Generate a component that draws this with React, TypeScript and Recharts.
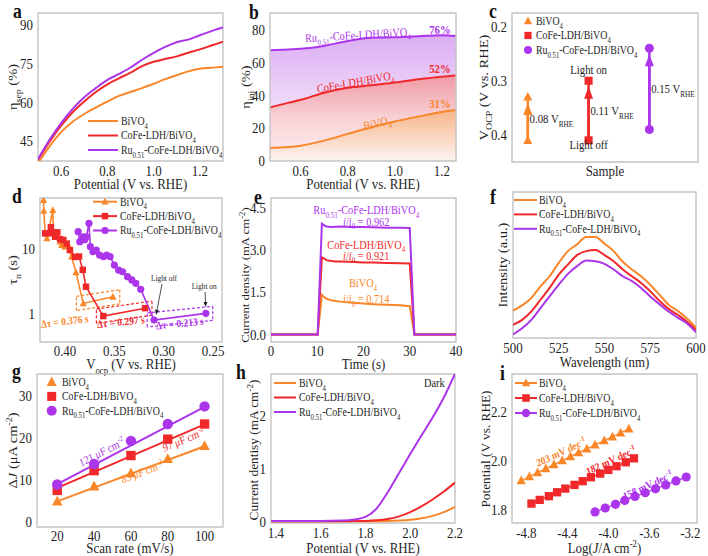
import React from 'react'
import {
  ComposedChart,
  Line,
  Area,
  XAxis,
  YAxis,
  ReferenceArea,
  ReferenceLine,
  ReferenceDot
} from 'recharts'

const ORANGE = '#fa862a'
const RED = '#f0282a'
const PURPLE = '#ab35eb'
const INK = '#1e1e1e'
const FRAME = '#c4c4c4'
const SERIF = '"Liberation Serif", "Times New Roman", serif'
// lettering in this figure is set narrower than the font's natural width
const SX = 0.86

const SAMPLES = ['BiVO_{4}', 'CoFe-LDH/BiVO_{4}', 'Ru_{0.51}-CoFe-LDH/BiVO_{4}']
const COLORS = [ORANGE, RED, PURPLE]
const KINDS = ['tri', 'sq', 'dot']
const KEYS = ['bi', 'co', 'ru']

// a: charge separation efficiency vs potential
const A_POT = [0.5, 0.55, 0.6, 0.65, 0.7, 0.75, 0.8, 0.85, 0.9, 0.95, 1.0, 1.05, 1.1, 1.15, 1.2, 1.25, 1.3]
const A_BI = [36.5, 43, 48.5, 52.5, 55.5, 58, 60.3, 62.5, 64, 65.5, 67.2, 69, 70.5, 72, 73, 73.4, 73.8]
const A_CO = [37.8, 44.8, 51, 56.2, 60.3, 64, 67, 69.3, 71.5, 74, 75.7, 76.8, 77.8, 79.2, 80.5, 82, 83.5]
const A_RU = [38, 45.5, 52, 57.5, 62, 65.5, 68.7, 71, 73.5, 76.5, 79.2, 81.5, 83.3, 84.3, 86, 87.6, 89]

// b: injection efficiency vs potential
const B_POT = [0.47, 0.55, 0.6, 0.7, 0.8, 0.9, 1.0, 1.1, 1.2, 1.26]
const B_BI = [8, 8.5, 9.3, 12.4, 16.5, 20.5, 24, 27, 29.8, 31]
const B_CO = [32.5, 35.5, 37.2, 41.5, 44.5, 46, 47.7, 49.7, 51.3, 52]
const B_RU = [67.3, 67.8, 68.2, 70, 73, 75, 75.2, 75.8, 76.5, 76]

// c: open-circuit potential, dark and illuminated
const C_POS = [1, 2, 3]
const C_OFF = [0.41, 0.41, 0.39]
const C_ON = [0.33, 0.3, 0.24]

// d: carrier lifetime vs Vocp
const D_BI_V = [0.4217, 0.4215, 0.42, 0.4183, 0.4123, 0.4117, 0.4083, 0.405, 0.4033, 0.4017, 0.4, 0.3967, 0.395, 0.3933, 0.3889, 0.3815, 0.3515]
const D_BI_T = [54, 37, 16.9, 14.2, 38, 16.9, 15, 12.6, 11.2, 11.8, 10.6, 11.2, 9.4, 7.45, 4.3, 1.45, 1.826]
const D_CO_V = [0.42, 0.4167, 0.4143, 0.4117, 0.41, 0.4077, 0.405, 0.4017, 0.3983, 0.395, 0.3899, 0.3858, 0.382, 0.3787, 0.3612, 0.3189]
const D_CO_T = [16.9, 16.9, 20.9, 17.5, 15, 17.5, 13.8, 13.4, 11.8, 9.4, 7.4, 7.5, 4.7, 2.6, 0.93, 1.227]
const D_RU_V = [0.3867, 0.385, 0.3817, 0.38, 0.3783, 0.3757, 0.3743, 0.3717, 0.3683, 0.365, 0.361, 0.3577, 0.3543, 0.35, 0.3457, 0.3417, 0.3367, 0.3323, 0.3283, 0.3233, 0.3098, 0.2574]
const D_RU_T = [17.9, 12.6, 15, 13.5, 15, 24, 10.6, 8.9, 9.4, 7.9, 7.45, 7.9, 7.45, 5.56, 4.67, 4.4, 3.7, 3.3, 2.93, 2.38, 0.81, 1.023]

// e: chopped photocurrent
const E_T = [0, 10.1, 11, 11.5, 12, 13, 14, 15, 17, 20, 22, 25, 28, 30, 31, 40]
const E_BI = [0, 0, 1.4, 1.32, 1.26, 1.21, 1.18, 1.16, 1.13, 1.09, 1.07, 1.05, 1.03, 1.0, 0, 0]
const E_CO = [0, 0, 2.725, 2.68, 2.63, 2.6, 2.58, 2.58, 2.57, 2.55, 2.55, 2.53, 2.52, 2.51, 0, 0]
const E_RU = [0, 0, 3.92, 3.86, 3.82, 3.8, 3.81, 3.82, 3.8, 3.8, 3.79, 3.78, 3.78, 3.77, 0, 0]

// f: photoluminescence
const F_WL = [500, 505, 510, 515, 520, 525, 530, 535, 540, 545, 550, 555, 560, 565, 570, 575, 580, 585, 590, 595, 600]
const F_BI = [18.8, 22.3, 27.4, 35.4, 42.3, 51.5, 59.5, 64.1, 69.2, 69.2, 64.6, 59.5, 52.2, 46.9, 42.3, 36.5, 29.7, 22.8, 18.6, 13.5, 7.1]
const F_CO = [9, 12.4, 18.2, 26.2, 34.3, 43.4, 50.3, 56.8, 59.5, 60.2, 56.8, 52.6, 46.9, 42.3, 37.7, 32, 25.5, 20, 15.9, 11.3, 5.5]
const F_RU = [2.5, 6.7, 12.4, 20.5, 28.5, 36.5, 43.9, 49.2, 53.1, 52.6, 50.8, 46.9, 42.3, 38.9, 34.3, 28.5, 23.2, 18.2, 14, 10.1, 3.9]

// g: double-layer capacitance
const G_RATE = [20, 40, 60, 80, 100]
const G_BI = [4.9, 8.5, 11.6, 15.0, 18.1]
const G_CO = [7.5, 12.2, 15.8, 19.7, 23.3]
const G_RU = [8.9, 13.8, 19.3, 23.3, 27.5]
const G_FIT_RATE = [20, 100]
const G_FIT_BI = [4.9, 18.0]
const G_FIT_CO = [8.1, 23.2]
const G_FIT_RU = [9.0, 27.4]
const G_CDL = ['83 μF cm^{-2}', '97 μF cm^{-2}', '121 μF cm^{-2}']

// h: dark LSV
const H_POT = [1.38, 1.5, 1.6, 1.7, 1.75, 1.8, 1.85, 1.9, 1.95, 2.0, 2.05, 2.1, 2.15, 2.2]
const H_BI = [0.01, 0.01, 0.01, 0.01, 0.01, 0.01, 0.01, 0.012, 0.02, 0.035, 0.065, 0.11, 0.18, 0.28]
const H_CO = [0.01, 0.01, 0.01, 0.01, 0.012, 0.015, 0.025, 0.05, 0.1, 0.18, 0.29, 0.42, 0.57, 0.74]
const H_RU = [0.015, 0.015, 0.015, 0.02, 0.04, 0.09, 0.25, 0.56, 0.92, 1.28, 1.63, 1.97, 2.35, 2.8]

// i: Tafel plots
const I_BI_J = [-4.85, -4.77, -4.69, -4.61, -4.53, -4.45, -4.37, -4.29, -4.21, -4.13, -4.04, -3.96, -3.88, -3.8]
const I_BI_V = [1.92, 1.936, 1.952, 1.968, 1.985, 2.001, 2.017, 2.033, 2.049, 2.065, 2.082, 2.098, 2.114, 2.13]
const I_CO_J = [-4.75, -4.67, -4.58, -4.5, -4.42, -4.33, -4.25, -4.17, -4.08, -4.0, -3.92, -3.83, -3.75]
const I_CO_V = [1.826, 1.841, 1.856, 1.872, 1.887, 1.902, 1.917, 1.933, 1.948, 1.963, 1.978, 1.994, 2.01]
const I_RU_J = [-4.13, -4.03, -3.93, -3.84, -3.74, -3.64, -3.54, -3.44, -3.34, -3.24]
const I_RU_V = [1.792, 1.808, 1.823, 1.839, 1.855, 1.87, 1.886, 1.902, 1.918, 1.934]
const I_SLOPE = ['203 mV dec^{-1}', '182 mV dec^{-1}', '158 mV dec^{-1}']

type Box = { l: number; t: number; r: number; b: number }

const PAD = { l: 46, t: 22, r: 14, b: 36 }
const YW = 30
const XH = 20

function layout(box: Box) {
  const w = box.r - box.l
  const h = box.b - box.t
  return {
    ox: box.l - PAD.l,
    oy: box.t - PAD.t,
    width: w + PAD.l + PAD.r,
    height: h + PAD.t + PAD.b
  }
}

function size(box: Box) {
  const L = layout(box)
  return {
    width: L.width,
    height: L.height,
    margin: { left: PAD.l - YW, top: PAD.t, right: PAD.r, bottom: PAD.b - XH }
  }
}

const zip = (xs: number[], ys: number[]) => xs.map((x, i) => ({ x, v: ys[i] }))

// subscripts _{..}, superscripts ^{..}, italics ~{..}
function rich(src: string, fs: number) {
  const out: React.ReactNode[] = []
  const re = /([_^~])\{([^}]*)\}/g
  let shift = 0
  let last = 0
  let k = 0
  let m: RegExpExecArray | null
  const put = (s: string, lift: number, size: number, italic = false) => {
    if (!s) return
    out.push(
      <tspan key={k++} dy={lift - shift} fontSize={size} fontStyle={italic ? 'italic' : undefined}>
        {s}
      </tspan>
    )
    shift = lift
  }
  while ((m = re.exec(src)) !== null) {
    put(src.slice(last, m.index), 0, fs)
    if (m[1] === '~') put(m[2], 0, fs, true)
    else put(m[2], m[1] === '_' ? fs * 0.32 : -fs * 0.4, fs * 0.68)
    last = re.lastIndex
  }
  put(src.slice(last), 0, fs)
  return out
}

function Rich({ x, y, text, size = 12, fill = INK, anchor = 'start', angle = 0, weight = 'normal' }: any) {
  return (
    <text
      x={x}
      y={y}
      fontSize={size}
      fill={fill}
      textAnchor={anchor}
      fontWeight={weight}
      style={{ whiteSpace: 'pre' }}
      transform={`translate(${x} ${y}) scale(${SX} 1) rotate(${angle}) translate(${-x} ${-y})`}
    >
      {rich(text, size)}
    </text>
  )
}

function mark(kind: string, cx: number, cy: number, color: string, s: number) {
  if (kind === 'tri') {
    return <polygon points={`${cx},${cy - s * 1.1} ${cx - s},${cy + s * 0.8} ${cx + s},${cy + s * 0.8}`} fill={color} />
  }
  if (kind === 'sq') return <rect x={cx - s * 0.9} y={cy - s * 0.9} width={s * 1.8} height={s * 1.8} fill={color} />
  return <circle cx={cx} cy={cy} r={s} fill={color} />
}

const dots = (i: number, s: number) => (p: any) => (
  <g key={`m${p.index}`}>{mark(KINDS[i], p.cx, p.cy, COLORS[i], s)}</g>
)

const arrow = (color: string, head: number, wide: number, sw: number) => (p: any) => {
  const { x1, y1, x2, y2 } = p
  const a = Math.atan2(y2 - y1, x2 - x1)
  const bx = x2 - head * Math.cos(a)
  const by = y2 - head * Math.sin(a)
  const nx = (-Math.sin(a) * wide) / 2
  const ny = (Math.cos(a) * wide) / 2
  return (
    <g>
      <line x1={x1} y1={y1} x2={bx} y2={by} stroke={color} strokeWidth={sw} />
      <polygon points={`${x2},${y2} ${bx + nx},${by + ny} ${bx - nx},${by - ny}`} fill={color} />
    </g>
  )
}

function note(key: string, x: number, y: number, text: string, o: any = {}) {
  return (
    <ReferenceDot
      key={key}
      x={x}
      y={y}
      r={0}
      ifOverflow="visible"
      shape={(p: any) => <Rich x={p.cx} y={p.cy} text={text} {...o} />}
    />
  )
}

const f0 = (v: number) => String(v)
const f1 = (v: number) => v.toFixed(1)
const f2 = (v: number) => v.toFixed(2)

function xAxis(domain: number[], ticks: number[], fmt: ((v: number) => string) | null, extra: any = {}) {
  return (
    <XAxis
      type="number"
      dataKey="x"
      domain={domain}
      ticks={ticks}
      interval={0}
      allowDataOverflow
      axisLine={false}
      tickLine={false}
      tickSize={3}
      tickMargin={1}
      height={XH}
      tick={fmt ? (p: any) => <Rich x={p.x} y={p.y + 10.6} text={fmt(p.payload.value)} size={15} fill="#222" anchor="middle" /> : false}
      {...extra}
    />
  )
}

function yAxis(domain: number[], ticks: number[], fmt: ((v: number) => string) | null, extra: any = {}) {
  return (
    <YAxis
      type="number"
      domain={domain}
      ticks={ticks}
      interval={0}
      allowDataOverflow
      axisLine={false}
      tickLine={false}
      tickSize={3}
      tickMargin={2}
      width={YW}
      tick={fmt ? (p: any) => <Rich x={p.x} y={p.y + 5.3} text={fmt(p.payload.value)} size={15} fill="#222" anchor="end" /> : false}
      {...extra}
    />
  )
}

// light grey box around the whole plotting area
const frame = (xd: number[], yd: number[]) => (
  <ReferenceArea x1={xd[0]} x2={xd[1]} y1={yd[0]} y2={yd[1]} ifOverflow="visible" fill="none" fillOpacity={0} stroke={FRAME} strokeWidth={1.4} />
)

function Key({ x, y, gap, len, textX, mode, s = 4 }: any) {
  return (
    <g>
      {SAMPLES.map((name, i) => {
        const cy = y + i * gap
        return (
          <g key={name}>
            {mode !== 'mark' && <line x1={x} x2={x + len} y1={cy} y2={cy} stroke={COLORS[i]} strokeWidth={2} />}
            {mode !== 'line' && mark(KINDS[i], x + len / 2, cy, COLORS[i], s)}
            <Rich x={textX} y={cy + 4} text={name} size={11.5} />
          </g>
        )
      })}
    </g>
  )
}

function Panel({ box, chart, children }: { box: Box; chart: React.ReactNode; children?: React.ReactNode }) {
  const L = layout(box)
  return (
    <div style={{ position: 'absolute', left: L.ox, top: L.oy, width: L.width, height: L.height }}>
      {chart}
      <svg width={L.width} height={L.height} style={{ position: 'absolute', left: 0, top: 0, overflow: 'visible', pointerEvents: 'none' }}>
        <g transform={`translate(${-L.ox} ${-L.oy})`}>{children}</g>
      </svg>
    </div>
  )
}

const Letter = ({ x, y, ch }: { x: number; y: number; ch: string }) => (
  <Rich x={x} y={y} text={ch} size={20.5} weight="bold" fill="#111" />
)

const A_BOX = { l: 38, t: 13, r: 223, b: 161 }
const B_BOX = { l: 270, t: 13, r: 456, b: 161 }
const C_BOX = { l: 512, t: 13, r: 698, b: 162 }
const D_BOX = { l: 40, t: 198, r: 222, b: 342 }
const E_BOX = { l: 271, t: 198, r: 456, b: 342 }
const F_BOX = { l: 513, t: 192, r: 696, b: 338 }
const G_BOX = { l: 37, t: 374, r: 223, b: 527 }
const H_BOX = { l: 271, t: 374, r: 455, b: 523 }
const I_BOX = { l: 512, t: 374, r: 697, b: 523 }

function PanelA() {
  const rows = A_POT.map((x, i) => ({ x, bi: A_BI[i], co: A_CO[i], ru: A_RU[i] }))
  const xd = [0.5, 1.3]
  const yd = [37.3, 94.6]
  return (
    <Panel
      box={A_BOX}
      chart={
        <ComposedChart {...size(A_BOX)} data={rows}>
          {xAxis(xd, [0.6, 0.8, 1.0, 1.2], f1)}
          {yAxis(yd, [45, 60, 75, 90], f0)}
          {KEYS.map((k, i) => (
            <Line key={k} type="monotone" dataKey={k} stroke={COLORS[i]} strokeWidth={2} dot={false} isAnimationActive={false} />
          ))}
          {frame(xd, yd)}
        </ComposedChart>
      }
    >
      <Letter x={13} y={18.5} ch="a" />
      <Rich x={17} y={87} text="η_{sep} (%)" size={14.5} anchor="middle" angle={-90} />
      <Rich x={130.5} y={189} text="Potential (V vs. RHE)" size={15} anchor="middle" />
      <Key x={88} y={121} gap={14.5} len={30} textX={121} mode="line" />
    </Panel>
  )
}

function PanelB() {
  const rows = B_POT.map((x, i) => ({ x, bi: B_BI[i], co: B_CO[i], ru: B_RU[i] }))
  const ends = [B_BI, B_CO, B_RU].map((s) => s[s.length - 1])
  const xd = [0.47, 1.26]
  const yd = [0, 90]
  return (
    <Panel
      box={B_BOX}
      chart={
        <ComposedChart {...size(B_BOX)} data={rows}>
          <defs>
            <linearGradient id="fillRu" x1="0" y1="0" x2="0" y2="1">
              <stop offset="0" stopColor="#dcaef4" />
              <stop offset="0.55" stopColor="#efdaf7" />
              <stop offset="1" stopColor="#f8eefa" />
            </linearGradient>
            <linearGradient id="fillCo" x1="0" y1="0" x2="0" y2="1">
              <stop offset="0" stopColor="#f09aa4" />
              <stop offset="0.5" stopColor="#f8d2d6" />
              <stop offset="1" stopColor="#fdf0f0" />
            </linearGradient>
            <linearGradient id="fillBi" x1="0" y1="0" x2="0" y2="1">
              <stop offset="0" stopColor="#f8b58a" />
              <stop offset="1" stopColor="#fdf3f1" />
            </linearGradient>
          </defs>
          {xAxis(xd, [0.6, 0.8, 1.0, 1.2], f1)}
          {yAxis(yd, [0, 20, 40, 60, 80], f0)}
          <Area type="monotone" dataKey="ru" stroke={PURPLE} strokeWidth={2} fill="url(#fillRu)" fillOpacity={1} isAnimationActive={false} />
          <Area type="monotone" dataKey="co" stroke={RED} strokeWidth={2} fill="url(#fillCo)" fillOpacity={1} isAnimationActive={false} />
          <Area type="monotone" dataKey="bi" stroke={ORANGE} strokeWidth={2} fill="url(#fillBi)" fillOpacity={1} isAnimationActive={false} />
          {frame(xd, yd)}
          {note('lr', 0.844, 74.2, SAMPLES[2], { fill: PURPLE, anchor: 'middle', angle: -3, size: 12 })}
          {note('lc', 0.835, 45.6, SAMPLES[1], { fill: RED, anchor: 'middle', angle: -9, size: 12 })}
          {note('lb', 0.929, 20.7, SAMPLES[0], { fill: ORANGE, anchor: 'middle', angle: -12, size: 12 })}
          {ends.map((v, i) =>
            note(`e${i}`, 1.192, v + 1.5, `${Math.round(v)}%`, { fill: COLORS[i], anchor: 'middle', weight: 'bold', size: 12.5 })
          )}
        </ComposedChart>
      }
    >
      <Letter x={249} y={19} ch="b" />
      <Rich x={250} y={87} text="η_{inj} (%)" size={14.5} anchor="middle" angle={-90} />
      <Rich x={363} y={189} text="Potential (V vs. RHE)" size={15} anchor="middle" />
    </Panel>
  )
}

function PanelC() {
  const xd = [0.74, 3.8]
  const yd = [0.175, 0.45]
  return (
    <Panel
      box={C_BOX}
      chart={
        <ComposedChart {...size(C_BOX)}>
          {xAxis(xd, [1, 2, 3], null)}
          {yAxis(yd, [0.2, 0.3, 0.4], f1, { reversed: true })}
          {frame(xd, yd)}
          {C_POS.map((x, i) => (
            <Line
              key={`l${i}`}
              data={[{ x, v: C_OFF[i] }, { x, v: C_ON[i] }]}
              dataKey="v"
              stroke={COLORS[i]}
              strokeWidth={2.5}
              dot={dots(i, 4.5)}
              isAnimationActive={false}
            />
          ))}
          {C_POS.map((x, i) => (
            <ReferenceLine
              key={`a${i}`}
              segment={[{ x, y: C_OFF[i] }, { x, y: C_ON[i] + 0.011 }]}
              ifOverflow="visible"
              shape={arrow(COLORS[i], 12, 9, 2.5)}
            />
          ))}
          {C_POS.map((x, i) =>
            note(`d${i}`, x + 0.03, (C_OFF[i] + C_ON[i]) / 2 + 0.008, `${(C_OFF[i] - C_ON[i]).toFixed(2)} V_{RHE}`, { size: 12.5 })
          )}
          {note('on', C_POS[1], C_ON[1] - 0.012, 'Light on', { anchor: 'middle', size: 12.5 })}
          {note('off', C_POS[1], C_OFF[1] + 0.016, 'Light off', { anchor: 'middle', size: 12.5 })}
        </ComposedChart>
      }
    >
      <Letter x={489} y={18.5} ch="c" />
      <Rich x={488} y={87.5} text="V_{OCP} (V vs. RHE)" size={14.5} anchor="middle" angle={-90} />
      <Rich x={605} y={176} text="Sample" size={15} anchor="middle" />
      <Key x={523.5} y={21} gap={14.5} len={9} textX={536} mode="mark" s={4} />
    </Panel>
  )
}

function dashedBox(key: string, s: { x: number; v: number }[], color: string) {
  const off = s[s.length - 2]
  const on = s[s.length - 1]
  const dv = 0.007
  const k = 1.28
  const pts = [
    [off.x + dv, off.v * k],
    [on.x - dv, on.v * k],
    [on.x - dv, on.v / k],
    [off.x + dv, off.v / k]
  ]
  return pts.map((p, i) => {
    const q = pts[(i + 1) % 4]
    return (
      <ReferenceLine
        key={`${key}${i}`}
        segment={[{ x: p[0], y: p[1] }, { x: q[0], y: q[1] }]}
        stroke={color}
        strokeWidth={1.2}
        strokeDasharray="3 2"
        ifOverflow="visible"
      />
    )
  })
}

function PanelD() {
  const series = [zip(D_BI_V, D_BI_T), zip(D_CO_V, D_CO_T), zip(D_RU_V, D_RU_T)]
  const gaps = series.map((s) => (s[s.length - 1].v - s[s.length - 2].v).toFixed(3))
  const where = [
    [0.4, 0.68, -6],
    [0.3432, 0.664, -5],
    [0.2834, 0.634, -5]
  ]
  const xd = [0.241, 0.4253]
  const yd = [0.375, 58.3]
  return (
    <Panel
      box={D_BOX}
      chart={
        <ComposedChart {...size(D_BOX)}>
          {xAxis(xd, [0.25, 0.3, 0.35, 0.4], f2, { reversed: true, tickMargin: 0 })}
          {yAxis(yd, [1, 10], f0, { scale: 'log' })}
          {frame(xd, yd)}
          {series.map((s, i) => dashedBox(`b${i}`, s, COLORS[i]))}
          {series.map((s, i) => (
            <Line key={`s${i}`} data={s} dataKey="v" stroke={COLORS[i]} strokeWidth={1.6} dot={dots(i, 3.6)} isAnimationActive={false} />
          ))}
          {gaps.map((g, i) =>
            note(`g${i}`, where[i][0], where[i][1], `Δτ = ${g} s`, { fill: COLORS[i], anchor: 'middle', angle: where[i][2], size: 11, weight: 'bold' })
          )}
          {note('loff', 0.2997, 3.18, 'Light off', { anchor: 'middle', size: 8.5 })}
          {note('lon', 0.2591, 2.44, 'Light on', { anchor: 'middle', size: 8.5 })}
          <ReferenceLine segment={[{ x: 0.3017, y: 2.86 }, { x: 0.3078, y: 0.97 }]} ifOverflow="visible" shape={arrow('#222', 5, 4, 0.8)} />
          <ReferenceLine segment={[{ x: 0.2581, y: 2.16 }, { x: 0.2576, y: 1.28 }]} ifOverflow="visible" shape={arrow('#222', 5, 4, 0.8)} />
        </ComposedChart>
      }
    >
      <Letter x={12} y={203} ch="d" />
      <Rich x={17} y={270} text="τ_{n} (s)" size={14.5} anchor="middle" angle={-90} />
      <Rich x={131} y={369} text="V_{ocp} (V vs. RHE)" size={15} anchor="middle" />
      <Key x={93} y={201.7} gap={14.4} len={24} textX={120} mode="both" s={3.6} />
    </Panel>
  )
}

function PanelE() {
  const rows = E_T.map((x, i) => ({ x, bi: E_BI[i], co: E_CO[i], ru: E_RU[i] }))
  const stop = E_T.indexOf(30)
  const ratio = (s: number[]) => (s[stop] / Math.max(...s)).toFixed(3)
  const xd = [0, 40]
  const yd = [-0.27, 4.83]
  return (
    <Panel
      box={E_BOX}
      chart={
        <ComposedChart {...size(E_BOX)} data={rows}>
          {xAxis(xd, [0, 10, 20, 30, 40], f0, { tickMargin: 0 })}
          {yAxis(yd, [0, 1.5, 3, 4.5], f1)}
          {frame(xd, yd)}
          {KEYS.map((k, i) => (
            <Line key={k} type="linear" dataKey={k} stroke={COLORS[i]} strokeWidth={2} dot={false} isAnimationActive={false} />
          ))}
          {note('nr', 20.6, 4.27, SAMPLES[2], { fill: PURPLE, anchor: 'middle', size: 12 })}
          {note('rr', 20.6, 3.85, `~{i}/~{i}_{0} = ${ratio(E_RU)}`, { fill: PURPLE, anchor: 'middle', size: 12 })}
          {note('nc', 20.6, 3.04, SAMPLES[1], { fill: RED, anchor: 'middle', size: 12 })}
          {note('rc', 20.6, 2.65, `~{i}/~{i}_{0} = ${ratio(E_CO)}`, { fill: RED, anchor: 'middle', size: 12 })}
          {note('nb', 19.9, 1.68, SAMPLES[0], { fill: ORANGE, anchor: 'middle', size: 12 })}
          {note('rb', 20.6, 1.1, `~{i}/~{i}_{0} = ${ratio(E_BI)}`, { fill: ORANGE, anchor: 'middle', size: 12 })}
        </ComposedChart>
      }
    >
      <Letter x={254} y={204} ch="e" />
      <Rich x={249} y={275} text="Current density (mA cm^{-2})" size={12.8} anchor="middle" angle={-90} />
      <Rich x={363.5} y={369} text="Time (s)" size={15} anchor="middle" />
    </Panel>
  )
}

function PanelF() {
  const rows = F_WL.map((x, i) => ({ x, bi: F_BI[i], co: F_CO[i], ru: F_RU[i] }))
  const xd = [500, 600]
  const yd = [0, 100]
  return (
    <Panel
      box={F_BOX}
      chart={
        <ComposedChart {...size(F_BOX)} data={rows}>
          {xAxis(xd, [500, 525, 550, 575, 600], f0)}
          {yAxis(yd, [], null)}
          {frame(xd, yd)}
          {KEYS.map((k, i) => (
            <Line key={k} type="monotone" dataKey={k} stroke={COLORS[i]} strokeWidth={2} dot={false} isAnimationActive={false} />
          ))}
        </ComposedChart>
      }
    >
      <Letter x={490} y={204} ch="f" />
      <Rich x={507} y={265} text="Intensity (a.u.)" size={14.5} anchor="middle" angle={-90} />
      <Rich x={604.5} y={367} text="Wavelength (nm)" size={15} anchor="middle" />
      <Key x={514} y={200} gap={14.4} len={23} textX={539} mode="line" />
    </Panel>
  )
}

function PanelG() {
  const pts = [zip(G_RATE, G_BI), zip(G_RATE, G_CO), zip(G_RATE, G_RU)]
  const fits = [zip(G_FIT_RATE, G_FIT_BI), zip(G_FIT_RATE, G_FIT_CO), zip(G_FIT_RATE, G_FIT_RU)]
  const where = [
    [66.6, 11.0, -18],
    [89.2, 18.7, -20],
    [44.9, 15.8, -24]
  ]
  const xd = [9, 110]
  const yd = [-1.2, 35.2]
  return (
    <Panel
      box={G_BOX}
      chart={
        <ComposedChart {...size(G_BOX)}>
          {xAxis(xd, [20, 40, 60, 80, 100], f0, { tickMargin: 0 })}
          {yAxis(yd, [0, 10, 20, 30], f0)}
          {frame(xd, yd)}
          {fits.map((s, i) => (
            <Line key={`f${i}`} data={s} dataKey="v" stroke={COLORS[i]} strokeWidth={2} dot={false} isAnimationActive={false} />
          ))}
          {pts.map((s, i) => (
            <Line key={`p${i}`} data={s} dataKey="v" stroke="none" dot={dots(i, 5.2)} isAnimationActive={false} />
          ))}
          {G_CDL.map((t, i) => note(`c${i}`, where[i][0], where[i][1], t, { fill: COLORS[i], anchor: 'middle', angle: where[i][2], size: 11.5 }))}
        </ComposedChart>
      }
    >
      <Letter x={12} y={378} ch="g" />
      <Rich x={17} y={450.5} text="Δ~{J} (μA cm^{-2})" size={14.5} anchor="middle" angle={-90} />
      <Rich x={130} y={553} text="Scan rate (mV/s)" size={15} anchor="middle" />
      <Key x={46.7} y={382} gap={14.4} len={10} textX={62} mode="mark" s={5} />
    </Panel>
  )
}

function PanelH() {
  const rows = H_POT.map((x, i) => ({ x, bi: H_BI[i], co: H_CO[i], ru: H_RU[i] }))
  const xd = [1.378, 2.2]
  const yd = [-0.025, 2.795]
  return (
    <Panel
      box={H_BOX}
      chart={
        <ComposedChart {...size(H_BOX)} data={rows}>
          {xAxis(xd, [1.4, 1.6, 1.8, 2.0, 2.2], f1)}
          {yAxis(yd, [0, 1, 2], f0)}
          {frame(xd, yd)}
          {KEYS.map((k, i) => (
            <Line key={k} type="monotone" dataKey={k} stroke={COLORS[i]} strokeWidth={2} dot={false} isAnimationActive={false} />
          ))}
        </ComposedChart>
      }
    >
      <Letter x={236} y={379} ch="h" />
      <Rich x={258} y={450} text="Current dentisy (mA cm^{-2})" size={13.3} anchor="middle" angle={-90} />
      <Rich x={363} y={553} text="Potential (V vs. RHE)" size={15} anchor="middle" />
      <Key x={274} y={383} gap={14.5} len={22} textX={299} mode="line" />
      <Rich x={424} y={387} text="Dark" size={12} />
    </Panel>
  )
}

function PanelI() {
  const series = [zip(I_BI_J, I_BI_V), zip(I_CO_J, I_CO_V), zip(I_RU_J, I_RU_V)]
  const where = [
    [-4.452, 2.021],
    [-3.964, 1.987],
    [-3.606, 1.886]
  ]
  const xd = [-4.94, -3.135]
  const yd = [1.747, 2.353]
  return (
    <Panel
      box={I_BOX}
      chart={
        <ComposedChart {...size(I_BOX)}>
          {xAxis(xd, [-4.8, -4.4, -4.0, -3.6, -3.2], f1)}
          {yAxis(yd, [1.8, 2.0, 2.2], f1)}
          {frame(xd, yd)}
          {series.map((s, i) => (
            <Line key={`s${i}`} data={s} dataKey="v" stroke={COLORS[i]} strokeWidth={1.3} dot={dots(i, 4.6)} isAnimationActive={false} />
          ))}
          {I_SLOPE.map((t, i) => note(`t${i}`, where[i][0], where[i][1], t, { fill: COLORS[i], anchor: 'middle', angle: -22, size: 11, weight: 'bold' }))}
        </ComposedChart>
      }
    >
      <Letter x={500} y={380} ch="i" />
      <Rich x={490} y={449} text="Potential (V vs. RHE)" size={13.3} anchor="middle" angle={-90} />
      <Rich x={604.5} y={553} text="Log(~{J}/A cm^{-2})" size={15} anchor="middle" />
      <Key x={515} y={383} gap={15} len={22} textX={539} mode="both" s={4.2} />
    </Panel>
  )
}

export default function App() {
  return (
    <div
      style={{
        position: 'absolute',
        left: 0,
        top: 0,
        width: 708,
        height: 556,
        overflow: 'hidden',
        background: '#fff',
        fontFamily: SERIF,
        color: INK
      }}
    >
      <PanelA />
      <PanelB />
      <PanelC />
      <PanelD />
      <PanelE />
      <PanelF />
      <PanelG />
      <PanelH />
      <PanelI />
    </div>
  )
}
